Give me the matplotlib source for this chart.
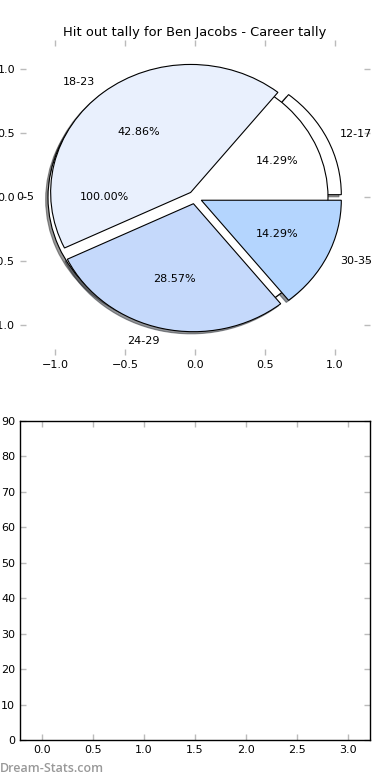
import matplotlib
matplotlib.use("Agg")
import matplotlib.pyplot as plt
from matplotlib.patches import Shadow

# career tally (hit outs) by age group
base_labels = ['0-5']
base_values = [1]
age_labels = ['12-17', '18-23', '24-29', '30-35']
age_values = [1, 3, 2, 1]
age_colors = ['#ffffff', '#e9f0fd', '#c5d9fb', '#b4d5fe']
explode = [0.05, 0.05, 0.05, 0.05]

# bar panel (empty)
bar_xlim = (-0.22, 3.22)
bar_ylim = (0, 90)

plt.rcParams['font.family'] = 'DejaVu Sans'
plt.rcParams['font.size'] = 8

fig = plt.figure(figsize=(3.9, 7.8), dpi=100, facecolor='white')
ax1 = fig.add_axes([0.0513, 0.545, 0.8974, 0.4037])
ax2 = fig.add_axes([0.0513, 0.0513, 0.8974, 0.409])

wp = {'edgecolor': 'black', 'linewidth': 0.8}
shd = {'ox': -0.012, 'oy': -0.012, 'shade': 0.8}

# first tally drawn on the axes (single group)
wb, tb, ab = ax1.pie(base_values, labels=base_labels, colors=['white'], explode=[0.05],
                     autopct='%1.2f%%', shadow=shd, wedgeprops=wp)
w, t, a = ax1.pie(age_values, labels=age_labels, colors=age_colors, explode=explode,
                  autopct='%1.2f%%', shadow=shd, wedgeprops=wp)

# stacking as in the original render
for p in ax1.patches:
    if isinstance(p, Shadow):
        p.set_zorder(0.5)
w[0].set_zorder(0.8)
wb[0].set_zorder(1)
for wedge in w[1:]:
    wedge.set_zorder(2)

ax1.set_aspect('auto')
ax1.set_frame_on(False)
ax1.set_xlim(-1.25, 1.25)
ax1.set_ylim(-1.23, 1.23)
ticks = [-1.0, -0.5, 0.0, 0.5, 1.0]
ax1.set_xticks(ticks)
ax1.set_yticks(ticks)
ax1.set_title('Hit out tally for Ben Jacobs - Career tally', fontsize=9.4, pad=3)

ax2.set_xlim(*bar_xlim)
ax2.set_ylim(*bar_ylim)
ax2.set_xticks([0.0, 0.5, 1.0, 1.5, 2.0, 2.5, 3.0])
ax2.set_yticks(range(0, 91, 10))
for sp in ax2.spines.values():
    sp.set_linewidth(1.0)
    sp.set_color('black')

for ax in (ax1, ax2):
    ax.tick_params(direction='in', length=4, width=1, color='#bbbbbb',
                   labelcolor='black', labelsize=8, top=True, right=True)

fig.text(0.0, 0.0105, 'Dream-Stats.com', fontsize=9, color='#999999',
         family='Open Sans', weight='semibold')

fig.savefig('out.png', dpi=100, facecolor='white')
